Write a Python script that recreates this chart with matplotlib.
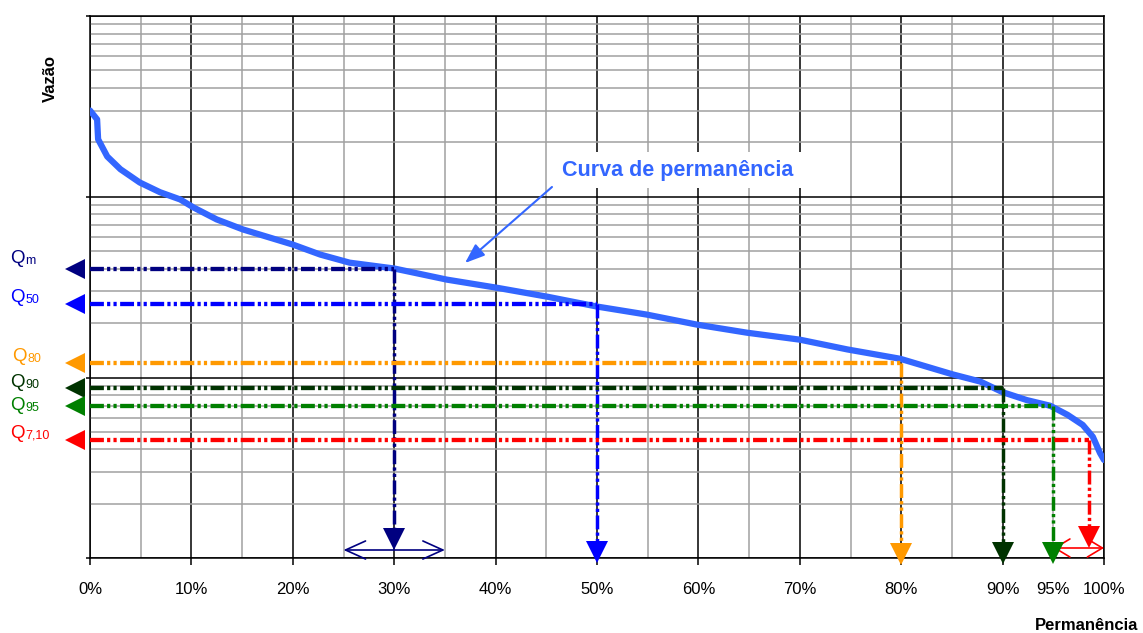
import numpy as np
import matplotlib
matplotlib.use('Agg')
import matplotlib.pyplot as plt
import matplotlib.transforms as mtransforms
from matplotlib.ticker import LogLocator, NullFormatter

plt.rcParams['font.family'] = ['Liberation Sans', 'DejaVu Sans']
plt.rcParams['lines.scale_dashes'] = False

# ---------------- data ----------------
permanence = [0.0, 0.7, 0.8, 1.7, 3.0, 4.9, 6.9, 8.9, 10.2, 12.5, 15.1, 20.0, 22.7,
              25.6, 30.0, 35.2, 40.1, 45.1, 50.0, 54.9, 59.9, 64.8, 70.0, 74.7,
              79.9, 85.1, 87.8, 90.0, 92.4, 94.7, 96.4, 97.9, 98.9, 99.6, 100.0]
flow = [300, 268, 208, 167, 142, 120, 106, 96.6, 87.3, 74.9, 65.9, 54.4, 47.9,
        43.2, 40.1, 34.8, 31.4, 28.0, 24.7, 22.3, 19.6, 17.7, 16.2, 14.3,
        12.7, 10.4, 9.5, 8.3, 7.5, 6.98, 6.22, 5.47, 4.70, 3.83, 3.50]

q_names = ['m', '50', '80', '90', '95', '7,10']
q_flow = [40.0, 25.6, 12.0, 8.7, 6.95, 4.52]
q_perm = [30, 50, 80, 90, 95, 98.5]

x_major = [0, 10, 20, 30, 40, 50, 60, 70, 80, 90, 100]
x_major_labels = ['0%', '10%', '20%', '30%', '40%', '50%', '60%', '70%', '80%', '90%', '100%']
x_minor = [5, 15, 25, 35, 45, 55, 65, 75, 85, 95]
x_minor_labels = ['', '', '', '', '', '', '', '', '', '95%']

range_arrows = [(25, 35), (95, 100)]

# ---------------- style ----------------
W, H = 1143, 633
q_colors = ['#000080', '#0000FF', '#FF9900', '#003300', '#008000', '#FF0000']
down_marker_frac = [0.0347, 0.0116, 0.008, 0.0098, 0.0103, 0.0384]
label_baseline_px = [263, 302, 361, 387, 410, 438]
label_left_px = [10, 10, 12, 10, 10, 10]
range_colors = ['#000080', '#FF0000']
range_frac = [0.0153, 0.0190]
range_head = [(1.44, 0.65), (1.08, 0.65)]
curve_color = '#3366FF'
dash_pattern = (10, 2.3, 2.3, 2.3, 2.3, 2.5)

fig = plt.figure(figsize=(W / 100, H / 100), dpi=100)
ax = fig.add_axes([90 / W, 1 - 558.3 / H, 1014 / W, 542.3 / H])
ax.set_xlim(0, 100)
ax.set_yscale('log')
ax.set_ylim(1, 1000)

# ticks & grid
ax.set_xticks(x_major)
ax.set_xticklabels(x_major_labels)
ax.set_xticks(x_minor, minor=True)
ax.set_xticklabels(x_minor_labels, minor=True)
ax.tick_params(axis='x', which='major', length=5, width=1.1, direction='out',
               labelsize=12, pad=12, colors='black')
ax.tick_params(axis='x', which='minor', length=0, labelsize=12, pad=17)
ax.yaxis.set_major_locator(LogLocator(base=10, numticks=10))
ax.yaxis.set_minor_locator(LogLocator(base=10, subs=np.arange(2, 10), numticks=30))
ax.yaxis.set_major_formatter(NullFormatter())
ax.yaxis.set_minor_formatter(NullFormatter())
ax.tick_params(axis='y', which='major', length=3, width=1.1)
ax.tick_params(axis='y', which='minor', length=0)
ax.grid(True, which='minor', color='#A0A0A0', lw=1.1)
ax.grid(True, which='major', color='black', lw=1.1)
ax.set_axisbelow(True)
for s in ax.spines.values():
    s.set_color('black')
    s.set_linewidth(1.1)

# curve
ax.plot(permanence, flow, color=curve_color, lw=4.5, solid_capstyle='round',
        solid_joinstyle='round', zorder=3)

# Q lines
for name, qv, qp, c, frac, by, lx in zip(q_names, q_flow, q_perm, q_colors,
                                         down_marker_frac, label_baseline_px, label_left_px):
    ax.plot([0, qp], [qv, qv], color=c, lw=3.1, dashes=dash_pattern, zorder=4)
    y_end = 10 ** (3 * frac)
    ax.plot([qp, qp], [qv, y_end], color=c, lw=2.5, dashes=dash_pattern, zorder=4)
    ax.plot([qp], [y_end], marker='v', ms=15.5, color=c, mew=0, clip_on=False, zorder=6)
    ax.plot([-1.43], [qv], marker='<', ms=15, color=c, mew=0, clip_on=False, zorder=6)
    fig.text(lx / W, 1 - by / H, 'Q', color=c, fontsize=13.5, ha='left', va='baseline')
    fig.text((lx + 15.5) / W, 1 - (by + 1) / H, name, color=c, fontsize=9,
             ha='left', va='baseline')

# range arrows at the bottom
trans = mtransforms.blended_transform_factory(ax.transData, ax.transAxes)
for (a, b), c, fr, (hl, hw) in zip(range_arrows, range_colors, range_frac, range_head):
    ax.annotate('', xy=(b, fr), xytext=(a, fr), xycoords=trans,
                arrowprops=dict(arrowstyle=f'<->,head_length={hl},head_width={hw}',
                                mutation_scale=10, color=c, lw=1.2,
                                shrinkA=0, shrinkB=0), zorder=5, annotation_clip=False)

# curve label
ax.text(0.58, 0.716, 'Curva de permanência', transform=ax.transAxes, ha='center',
        va='center', fontsize=15.5, fontweight='bold', color=curve_color,
        bbox=dict(boxstyle='square,pad=0.35', fc='white', ec='none'), zorder=5)
ax.annotate('', xy=(0.3698, 0.5445), xytext=(0.4556, 0.6847), xycoords='axes fraction',
            arrowprops=dict(arrowstyle='-|>,head_length=0.8,head_width=0.3',
                            mutation_scale=15, color=curve_color, lw=1.5,
                            shrinkA=0, shrinkB=0), zorder=5)

fig.text(50 / W, 1 - 78 / H, 'Vazão', rotation=90, ha='center', va='center',
         fontsize=12, fontweight='bold')
fig.text(1138 / W, 1 - 625 / H, 'Permanência', ha='right', va='center',
         fontsize=12, fontweight='bold')

fig.savefig('out.png', dpi=100)
